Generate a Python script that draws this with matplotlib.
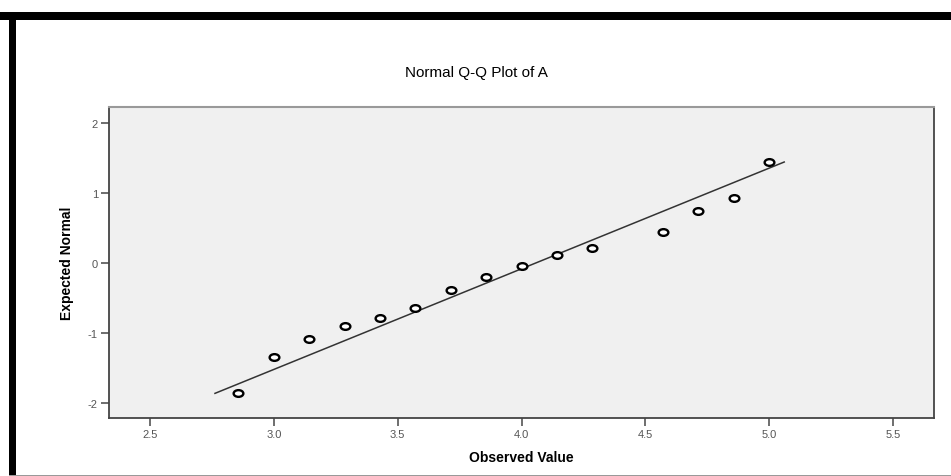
import numpy as np
import matplotlib.pyplot as plt
from matplotlib.path import Path
from matplotlib.transforms import Affine2D
from matplotlib.patches import Rectangle

plt.rcParams['font.family'] = ['Liberation Sans', 'DejaVu Sans']

observed = [2.857, 3.0, 3.143, 3.286, 3.429, 3.571, 3.714, 3.857, 4.0,
            4.143, 4.286, 4.571, 4.714, 4.857, 5.0]
expected = [-1.86, -1.34, -1.08, -0.90, -0.79, -0.64, -0.39, -0.20, -0.04,
            0.12, 0.21, 0.45, 0.75, 0.93, 1.44]

# reference line end points
line_x = [2.762, 5.061]
line_y = [-1.862, 1.443]

x_ticks = [2.5, 3.0, 3.5, 4.0, 4.5, 5.0, 5.5]
x_tick_labels = ['2.5', '3.0', '3.5', '4.0', '4.5', '5.0', '5.5']
y_ticks = [-2, -1, 0, 1, 2]
y_tick_labels = ['-2', '-1', '0', '1', '2']

fig = plt.figure(figsize=(9.51, 4.77), dpi=100)
fig.patch.set_facecolor('white')

# black frame around the picture (top and left), gray line at bottom
fig.patches.append(Rectangle((0, 1 - 21 / 477), 1, 8 / 477, transform=fig.transFigure,
                             facecolor='black', edgecolor='none'))
fig.patches.append(Rectangle((9 / 951, 0), 7 / 951, 1 - 13 / 477, transform=fig.transFigure,
                             facecolor='black', edgecolor='none'))
fig.patches.append(Rectangle((9 / 951, 0), 1, 1.5 / 477, transform=fig.transFigure,
                             facecolor='#999999', edgecolor='none'))

ax = fig.add_axes([109 / 951, 58 / 477, 825 / 951, 311 / 477])
ax.set_facecolor('#f0f0f0')

# hollow, slightly wide circle marker
ellipse = Path.unit_circle().transformed(Affine2D().scale(1.45, 1.0))

ax.plot(line_x, line_y, color='#333333', linewidth=1.1, zorder=2)
ax.plot(observed, expected, linestyle='none', marker=ellipse, markersize=7,
        markerfacecolor='white', markeredgecolor='black', markeredgewidth=1.7, zorder=3)

ax.set_xlim(2.334, 5.666)
ax.set_ylim(-2.214, 2.229)
ax.set_xticks(x_ticks)
ax.set_xticklabels(x_tick_labels)
ax.set_yticks(y_ticks)
ax.set_yticklabels(y_tick_labels)
ax.tick_params(axis='both', direction='out', length=6, width=1.2, color='#555555',
               labelsize=8, labelcolor='#555555', pad=2)

for side in ['left', 'bottom', 'right']:
    ax.spines[side].set_color('#444444')
    ax.spines[side].set_linewidth(1.3)
ax.spines['top'].set_color('#999999')
ax.spines['top'].set_linewidth(1.5)

ax.set_xlabel('Observed Value', fontsize=10, fontweight='bold', labelpad=8)
ax.set_ylabel('Expected Normal', fontsize=10, fontweight='bold', labelpad=10)

fig.text(476 / 951, 1 - 73 / 477, 'Normal Q-Q Plot of A', fontsize=11,
         ha='center', va='center')

fig.savefig('out.png', dpi=100)
